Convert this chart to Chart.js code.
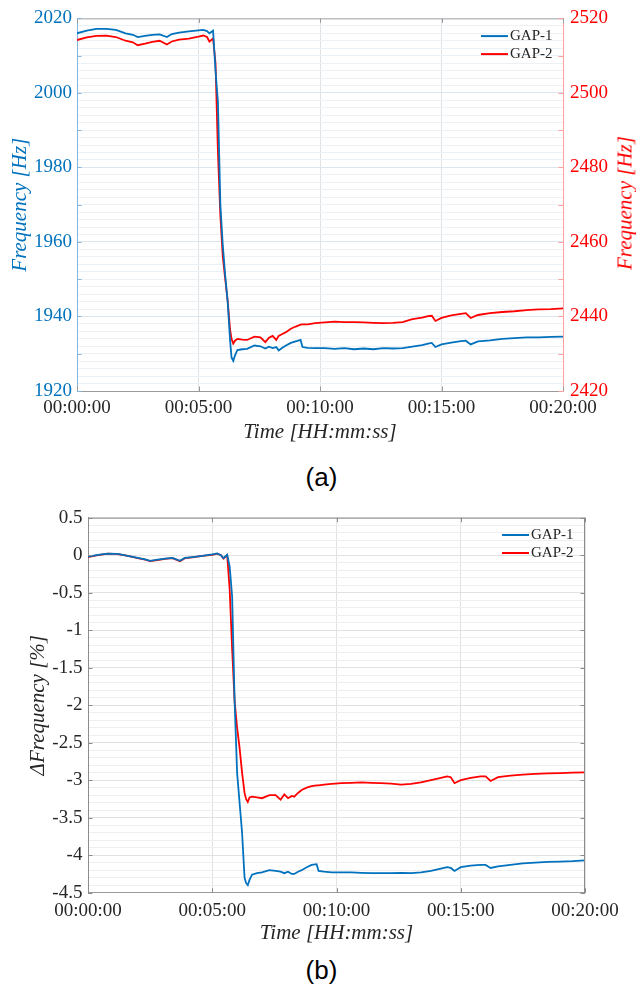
<!DOCTYPE html>
<html lang="pt-BR">
<head>
<meta charset="utf-8">
<title>Frequência GAP-1 / GAP-2</title>
<script src="https://cdn.jsdelivr.net/npm/chart.js@4/dist/chart.umd.min.js"></script>
<style>
  html, body { margin: 0; padding: 0; background: #fff; }
  body { position: relative; width: 636px; height: 984px; overflow: hidden; }
  .bloco { position: absolute; left: 0; }
  .legenda-fig {
    position: absolute; left: 0; width: 643px; text-align: center;
    font: 26px "Liberation Sans", Arial, sans-serif; color: #000; line-height: 30px;
  }
  .titulo-direita {
    position: absolute; left: 625px; top: 203px; white-space: nowrap;
    transform: translate(-50%, -50%) rotate(-90deg);
    font: italic 21px "Liberation Serif", "Times New Roman", serif; color: #FF0000;
  }
</style>
</head>
<body>
<div class="bloco" style="top:0"><canvas id="grafico-a" width="636" height="450"></canvas></div>
<div class="titulo-direita">Frequency [Hz]</div>
<div class="legenda-fig" style="top:462px">(a)</div>
<div class="bloco" style="top:495px"><canvas id="grafico-b" width="636" height="455"></canvas></div>
<div class="legenda-fig" style="top:955px">(b)</div>

<script>
// tempo em minutos desde 00:00:00
const tempos = [0, 0.4, 0.8, 1.2, 1.6, 2.0, 2.3, 2.5, 2.8, 3.1,
  3.4, 3.7, 3.9, 4.2, 4.6, 5.0, 5.2, 5.35, 5.45, 5.6,
  5.7, 5.8, 5.9, 6.0, 6.1, 6.2, 6.3, 6.36, 6.43, 6.5,
  6.6, 6.8, 7.0, 7.3, 7.55, 7.75, 7.9, 8.05, 8.2, 8.3,
  8.45, 8.6, 8.8, 9.0, 9.2, 9.28, 9.5, 9.8, 10.2, 10.6,
  11.0, 11.4, 11.8, 12.2, 12.6, 13.0, 13.4, 13.8, 14.2, 14.45,
  14.6, 14.75, 15.0, 15.4, 15.8, 16.0, 16.2, 16.5, 17.0, 17.5,
  18.0, 18.5, 19.0, 19.5, 20.0];

// (a) frequência absoluta [Hz]
const gap1Hz = [2016.0, 2016.7, 2017.2, 2017.2, 2016.9, 2016.0, 2015.6, 2015.0, 2015.3, 2015.6,
  2015.7, 2015.0, 2015.8, 2016.2, 2016.5, 2016.8, 2016.9, 2016.6, 2016.0, 2016.7,
  2006, 1997.5, 1970, 1959, 1951, 1944, 1933.5, 1929, 1928.1, 1929.5,
  1931.0, 1931.2, 1931.3, 1932.2, 1932.0, 1931.4, 1931.9, 1931.5, 1931.8, 1930.9,
  1931.6, 1932.2, 1932.9, 1933.3, 1933.7, 1931.8, 1931.6, 1931.5, 1931.5, 1931.3,
  1931.5, 1931.2, 1931.4, 1931.2, 1931.5, 1931.4, 1931.5, 1931.9, 1932.3, 1932.7,
  1932.9, 1931.8, 1932.5, 1933.0, 1933.4, 1933.5, 1932.5, 1933.3, 1933.6, 1934.0,
  1934.2, 1934.4, 1934.4, 1934.5, 1934.6];

const gap2Hz = [2514.2, 2514.9, 2515.3, 2515.4, 2515.0, 2514.0, 2513.6, 2512.8, 2513.2, 2513.7,
  2514.0, 2513.0, 2513.8, 2514.3, 2514.6, 2515.1, 2515.4, 2515.0, 2513.8, 2514.6,
  2508, 2484, 2467, 2456, 2450, 2444.2, 2436.5, 2434, 2432.7, 2433.5,
  2434.0, 2433.8, 2433.7, 2434.6, 2434.4, 2433.1, 2434.3, 2434.8, 2433.7, 2434.8,
  2435.3, 2435.8, 2436.7, 2437.3, 2437.8, 2437.9, 2437.9, 2438.2, 2438.4, 2438.6,
  2438.5, 2438.5, 2438.4, 2438.3, 2438.2, 2438.3, 2438.5, 2439.3, 2439.7, 2440.1,
  2440.2, 2438.8, 2439.6, 2440.3, 2440.7, 2440.9, 2439.6, 2440.4, 2440.9, 2441.2,
  2441.4, 2441.7, 2441.9, 2442.0, 2442.2];

// (b) variação de frequência [%]
const gap1Pct = [-0.02, 0.005, 0.022, 0.018, -0.01, -0.035, -0.055, -0.075, -0.06, -0.045,
  -0.035, -0.075, -0.035, -0.025, -0.01, 0.01, 0.025, 0.0, -0.04, 0.005,
  -0.15, -0.55, -1.95, -2.9, -3.3, -3.7, -4.3, -4.37, -4.40, -4.33,
  -4.26, -4.24, -4.23, -4.2, -4.21, -4.22, -4.24, -4.22, -4.25, -4.25,
  -4.22, -4.2, -4.16, -4.13, -4.12, -4.21, -4.22, -4.23, -4.23, -4.23,
  -4.235, -4.24, -4.24, -4.24, -4.235, -4.24, -4.23, -4.21, -4.18, -4.16,
  -4.17, -4.21, -4.16, -4.14, -4.13, -4.13, -4.17, -4.15, -4.13, -4.11,
  -4.1, -4.09, -4.085, -4.08, -4.07];

const gap2Pct = [-0.025, 0.0, 0.02, 0.015, -0.01, -0.04, -0.06, -0.08, -0.065, -0.05,
  -0.04, -0.08, -0.04, -0.03, -0.01, 0.005, 0.02, 0.0, -0.045, 0.0,
  -0.45, -1.25, -1.95, -2.3, -2.57, -2.9, -3.17, -3.25, -3.29, -3.23,
  -3.22, -3.23, -3.24, -3.2, -3.2, -3.26, -3.19, -3.24, -3.21, -3.22,
  -3.17, -3.13, -3.1, -3.08, -3.07, -3.07, -3.06, -3.05, -3.04, -3.035,
  -3.03, -3.035, -3.04, -3.045, -3.06, -3.05, -3.03, -3.0, -2.97, -2.95,
  -2.96, -3.04, -3.0, -2.97, -2.95, -2.95, -3.01, -2.96, -2.94, -2.925,
  -2.915, -2.91, -2.905, -2.9, -2.895];

const rotulosSeries = ['GAP-1', 'GAP-2'];

const AZUL = '#0072BD';
const VERMELHO = '#FF0000';
const TEXTO = '#262626';
const SERIFA = '"Liberation Serif", "Times New Roman", serif';

Chart.defaults.font.family = SERIFA;
Chart.defaults.color = TEXTO;

const formatarTempo = (v) => '00:' + String(v).padStart(2, '0') + ':00';
const pontos = (valores) => tempos.map((t, i) => ({ x: t, y: valores[i] }));

// legenda de linha dentro da área do gráfico (canto superior direito)
const legendaLinha = {
  id: 'legendaLinha',
  afterDatasetsDraw(chart, args, opts) {
    const { ctx, chartArea } = chart;
    const xTexto = chartArea.right - opts.recuo;
    ctx.save();
    ctx.font = '15px ' + SERIFA;
    ctx.textBaseline = 'middle';
    ctx.textAlign = 'left';
    chart.data.datasets.forEach((ds, i) => {
      const y = chartArea.top + opts.topo + i * 18;
      ctx.strokeStyle = ds.borderColor;
      ctx.lineWidth = 2;
      ctx.beginPath();
      ctx.moveTo(xTexto - 29, y);
      ctx.lineTo(xTexto - 2, y);
      ctx.stroke();
      ctx.fillStyle = TEXTO;
      ctx.fillText(ds.label, xTexto, y);
    });
    ctx.restore();
  }
};

// borda superior e marcas de escala voltadas para dentro (estilo MATLAB)
const molduraInterna = {
  id: 'molduraInterna',
  afterDatasetsDraw(chart, args, opts) {
    const { ctx, chartArea: { left, right, top, bottom } } = chart;
    const L = 4.5;
    ctx.save();
    ctx.lineWidth = 1;
    ctx.strokeStyle = opts.corTopo;
    ctx.beginPath();
    ctx.moveTo(left, top + 0.5);
    ctx.lineTo(right, top + 0.5);
    if (opts.corDireita) {
      ctx.moveTo(right - 0.5, top);
      ctx.lineTo(right - 0.5, bottom);
    }
    ctx.stroke();
    for (const m of opts.marcas) {
      const escala = chart.scales[m.eixo];
      ctx.strokeStyle = m.cor;
      ctx.beginPath();
      for (let v = escala.min; v <= escala.max + 1e-9; v += m.passo) {
        const p = Math.round(escala.getPixelForValue(v)) + 0.5;
        if (m.lado === 'left') { ctx.moveTo(left, p); ctx.lineTo(left + L, p); }
        if (m.lado === 'right') { ctx.moveTo(right, p); ctx.lineTo(right - L, p); }
        if (m.lado === 'x') {
          ctx.moveTo(p, bottom); ctx.lineTo(p, bottom - L);
          ctx.moveTo(p, top); ctx.lineTo(p, top + L);
        }
      }
      ctx.stroke();
    }
    ctx.restore();
  }
};

const fonteTick = { family: 'Liberation Serif', size: 19 };
const fonteTitulo = { family: 'Liberation Serif', size: 21, style: 'italic' };

function serie(rotulo, valores, cor, eixo) {
  return {
    label: rotulo,
    data: pontos(valores),
    borderColor: cor,
    backgroundColor: cor,
    borderWidth: 1.8,
    pointRadius: 0,
    tension: 0,
    yAxisID: eixo
  };
}

function eixoTempo(padTick, padTitulo, altura, corGrade) {
  return {
    type: 'linear', min: 0, max: 20,
    ticks: { stepSize: 5, callback: formatarTempo, font: fonteTick, color: TEXTO, padding: padTick, maxRotation: 0 },
    grid: { color: corGrade, drawTicks: false },
    border: { color: '#9a9a9a', width: 1 },
    title: { display: true, text: 'Time [HH:mm:ss]', font: fonteTitulo, color: TEXTO, padding: { top: 0, bottom: padTitulo } },
    afterFit: (s) => { s.height = altura; }
  };
}

// ---------- (a) ----------
new Chart(document.getElementById('grafico-a'), {
  type: 'line',
  data: {
    datasets: [
      serie(rotulosSeries[0], gap1Hz, AZUL, 'y'),
      serie(rotulosSeries[1], gap2Hz, VERMELHO, 'y1')
    ]
  },
  options: {
    responsive: false,
    animation: false,
    events: [],
    layout: { padding: { top: 15, left: 0, right: 0, bottom: 0 } },
    plugins: {
      legend: { display: false },
      tooltip: { enabled: false },
      legendaLinha: { recuo: 53, topo: 17.7 },
      molduraInterna: {
        corTopo: '#a8a8a8',
        marcas: [
          { eixo: 'x', passo: 5, cor: '#9a9a9a', lado: 'x' },
          { eixo: 'y', passo: 10, cor: '#86b6de', lado: 'left' },
          { eixo: 'y1', passo: 10, cor: '#ff9f9f', lado: 'right' }
        ]
      }
    },
    scales: {
      x: eixoTempo(5.6, 5.4, 59, '#dfe2e6'),
      y: {
        position: 'left', min: 1920, max: 2020,
        ticks: {
          stepSize: 2, autoSkip: false, color: AZUL, font: fonteTick, padding: 5,
          callback: (v) => (Math.abs(v % 20) < 1e-6 ? String(v) : '')
        },
        grid: {
          drawTicks: false,
          color: (c) => (Math.abs(c.tick.value % 20) < 1e-6 ? '#dde6ef' : '#ecf1f6')
        },
        border: { color: '#86b6de', width: 1 },
        title: { display: true, text: 'Frequency [Hz]', font: fonteTitulo, color: AZUL, padding: { top: 7.4, bottom: 0 } },
        afterFit: (s) => { s.width = 77; }
      },
      y1: {
        position: 'right', min: 2420, max: 2520,
        ticks: { stepSize: 20, color: VERMELHO, font: fonteTick, padding: 7, callback: (v) => String(v) },
        grid: { drawOnChartArea: false, drawTicks: false },
        border: { color: '#ff9f9f', width: 1 },
        afterFit: (s) => { s.width = 73; }
      }
    }
  },
  plugins: [legendaLinha, molduraInterna]
});

// ---------- (b) ----------
new Chart(document.getElementById('grafico-b'), {
  type: 'line',
  data: {
    datasets: [
      serie(rotulosSeries[0], gap1Pct, AZUL, 'y'),
      serie(rotulosSeries[1], gap2Pct, VERMELHO, 'y')
    ]
  },
  options: {
    responsive: false,
    animation: false,
    events: [],
    layout: { padding: { top: 22.7, left: 0, right: 51, bottom: 0 } },
    plugins: {
      legend: { display: false },
      tooltip: { enabled: false },
      legendaLinha: { recuo: 54, topo: 17.3 },
      molduraInterna: {
        corTopo: '#8c8c8c',
        corDireita: '#8c8c8c',
        marcas: [
          { eixo: 'x', passo: 5, cor: '#8c8c8c', lado: 'x' },
          { eixo: 'y', passo: 0.5, cor: '#8c8c8c', lado: 'left' },
          { eixo: 'y', passo: 0.5, cor: '#8c8c8c', lado: 'right' }
        ]
      }
    },
    scales: {
      x: eixoTempo(6.6, 4.4, 57.3, '#e2e2e2'),
      y: {
        position: 'left', min: -4.5, max: 0.5,
        ticks: {
          stepSize: 0.1, autoSkip: false, color: TEXTO, font: fonteTick, padding: 5.6,
          callback: (v) => (Math.round(v * 10) % 5 === 0 ? String(Math.round(v * 10) / 10) : '')
        },
        grid: {
          drawTicks: false,
          color: (c) => (Math.round(c.tick.value * 10) % 5 === 0 ? '#e2e2e2' : '#efefef')
        },
        border: { color: '#8c8c8c', width: 1 },
        title: { display: true, text: 'ΔFrequency [%]', font: fonteTitulo, color: TEXTO, padding: { top: 25.4, bottom: 0 } },
        afterFit: (s) => { s.width = 88; }
      }
    }
  },
  plugins: [legendaLinha, molduraInterna]
});
</script>
</body>
</html>
